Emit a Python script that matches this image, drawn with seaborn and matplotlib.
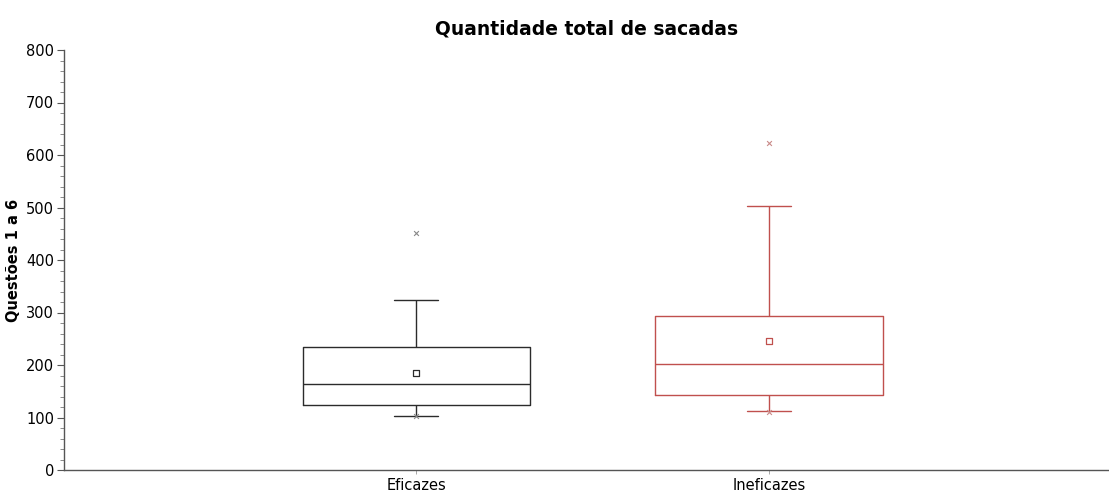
import numpy as np
import pandas as pd
import matplotlib
matplotlib.use("Agg")
import matplotlib.pyplot as plt
from matplotlib.ticker import MultipleLocator
import seaborn as sns

# Summary statistics of the total number of saccades per group
groups = ["Eficazes", "Ineficazes"]
whisker_low = [103, 112]
q1 = [124, 142]
median = [163, 201]
q3 = [234, 294]
whisker_high = [324, 502]
means = [185, 246]
minimum = [103, 111]
maximum = [451, 623]
colors = ["#2b2b2b", "#C0504D"]
marker_colors = ["#888888", "#C98A88"]

# Five values per group reproduce the box quartiles exactly (linear percentiles)
rows = []
for g, a, b, c, d, e in zip(groups, whisker_low, q1, median, q3, whisker_high):
    for v in (a, b, c, d, e):
        rows.append({"grupo": g, "valor": v})
df = pd.DataFrame(rows)

sns.set_theme(style="ticks")
plt.rcParams["font.family"] = ["DejaVu Sans"]
plt.rcParams["text.color"] = "black"
plt.rcParams["axes.labelcolor"] = "black"
plt.rcParams["xtick.labelcolor"] = "black"
plt.rcParams["ytick.labelcolor"] = "black"

fig = plt.figure(figsize=(11.09, 4.96), dpi=100)
ax = fig.add_axes([64 / 1109, 1 - 470 / 496, 1 - 64 / 1109, 420 / 496])

sns.boxplot(
    data=df, x="grupo", y="valor", hue="grupo", palette=colors,
    fill=False, whis=np.inf, width=0.645, linewidth=1.0,
    legend=False, ax=ax, capwidths=0.125,
)

stats = pd.DataFrame({"grupo": groups, "media": means,
                      "minimo": minimum, "maximo": maximum})
for i, g in enumerate(groups):
    sub = stats[stats["grupo"] == g]
    sns.scatterplot(data=sub, x="grupo", y="media", marker="s", s=14,
                    facecolor="white", edgecolor=colors[i], linewidth=0.9,
                    ax=ax, zorder=5)
    sns.scatterplot(data=sub, x="grupo", y="maximo", marker="x", s=12,
                    color=marker_colors[i], linewidth=0.8, ax=ax, zorder=5)
    sns.scatterplot(data=sub, x="grupo", y="minimo", marker="x", s=12,
                    color=marker_colors[i], linewidth=0.8, ax=ax, zorder=5)

ax.set_xlim(-1.0, 1.965)
ax.set_ylim(0, 800)
ax.yaxis.set_major_locator(MultipleLocator(100))
ax.yaxis.set_minor_locator(MultipleLocator(20))
ax.tick_params(axis="y", which="major", length=5, width=0.8, color="#555555",
               labelsize=10.5, pad=2)
ax.tick_params(axis="y", which="minor", length=3, width=0.6, color="#777777")
ax.tick_params(axis="x", which="major", length=3, width=0.6, color="#999999",
               labelsize=10.5, pad=3)
for side in ("top", "right"):
    ax.spines[side].set_visible(False)
for side in ("left", "bottom"):
    ax.spines[side].set_color("#555555")
    ax.spines[side].set_linewidth(1.0)

ax.set_xlabel("")
ax.set_ylabel("Questões 1 a 6", fontsize=10.5, fontweight="heavy", labelpad=4,
              color="black")
ax.set_title("Quantidade total de sacadas", fontsize=13.5, fontweight="bold",
             pad=11, color="black")

fig.savefig("out.png", dpi=100, facecolor="white")
